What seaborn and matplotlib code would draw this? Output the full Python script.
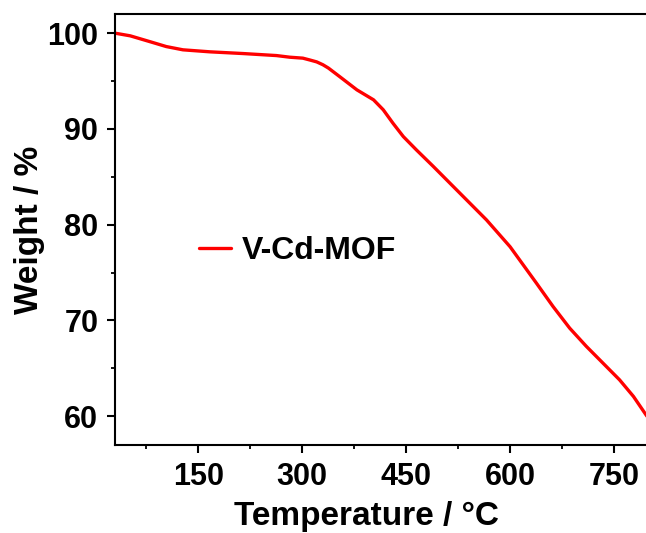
import matplotlib
matplotlib.use("Agg")
import matplotlib.pyplot as plt
import seaborn as sns
import pandas as pd
from matplotlib.ticker import MultipleLocator

temperature = [30, 52, 80, 104, 128, 167, 215, 263, 282, 301, 311, 321, 330, 338,
               354, 379, 403, 417, 431, 446, 465, 489, 518, 566, 600, 614, 638,
               662, 686, 710, 734, 758, 778, 796, 800]
weight = [100.0, 99.72, 99.12, 98.6, 98.26, 98.05, 97.87, 97.66, 97.49, 97.39, 97.2,
          97.0, 96.7, 96.35, 95.47, 94.08, 93.04, 92.0, 90.6, 89.2, 87.8, 86.1,
          83.99, 80.5, 77.7, 76.3, 73.9, 71.46, 69.2, 67.3, 65.55, 63.8, 62.07,
          60.16, 59.75]
series_name = "V-Cd-MOF"
x_ticks = [150, 300, 450, 600, 750]
y_ticks = [60, 70, 80, 90, 100]

df = pd.DataFrame({"Temperature": temperature, "Weight": weight,
                   "Sample": [series_name] * len(temperature)})

sns.set_style("ticks")
plt.rcParams["font.family"] = ["Liberation Sans", "DejaVu Sans"]
plt.rcParams["font.weight"] = "bold"
for k in ["text.color", "axes.labelcolor", "xtick.color", "ytick.color", "axes.edgecolor"]:
    plt.rcParams[k] = "black"

fig = plt.figure(figsize=(6.46, 5.33), dpi=100)
ax = fig.add_axes([115 / 646, (533 - 445) / 533, (648.7 - 115) / 646, (445 - 14) / 533])

sns.lineplot(data=df, x="Temperature", y="Weight", hue="Sample",
             palette=["#ff0000"], linewidth=2.4, ax=ax, sort=True)

ax.set_xlim(30, 800)
ax.set_ylim(57, 102)
ax.set_xticks(x_ticks)
ax.set_yticks(y_ticks)
ax.xaxis.set_minor_locator(MultipleLocator(75))
ax.yaxis.set_minor_locator(MultipleLocator(5))
ax.tick_params(which="major", direction="out", length=6, width=1.5, labelsize=22, pad=6)
ax.tick_params(which="minor", direction="out", length=3, width=1.3)
ax.tick_params(top=False, right=False, which="both")
for lab in ax.get_xticklabels() + ax.get_yticklabels():
    lab.set_fontweight("bold")
for sp in ax.spines.values():
    sp.set_linewidth(1.5)
    sp.set_color("black")

ax.set_xlabel("Temperature / °C", fontsize=24, fontweight="bold", labelpad=7)
ax.set_ylabel("Weight / %", fontsize=24, fontweight="bold", labelpad=1.5)
ax.xaxis.label.set_x((366 - 115) / 533.7)
ax.yaxis.label.set_y((445 - 229.5) / 431)

leg = ax.legend(loc="center left", bbox_to_anchor=((199 - 115) / 533.7, (445 - 251) / 431),
                frameon=False, fontsize=23, handlelength=1.0, handletextpad=0.35,
                borderpad=0, borderaxespad=0)
for t in leg.get_texts():
    t.set_fontweight("bold")

fig.savefig("out.png", dpi=100)
